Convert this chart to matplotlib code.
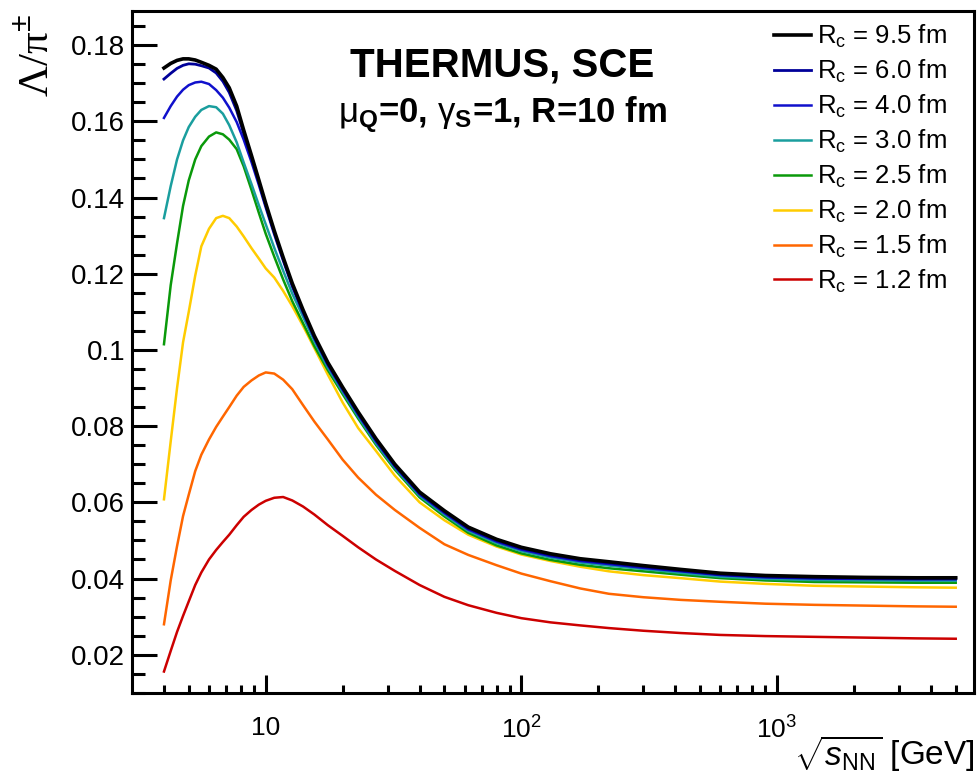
import matplotlib
matplotlib.use("Agg")
import matplotlib.pyplot as plt
import matplotlib.ticker as ticker

plt.rcParams['font.family'] = ['Liberation Sans', 'DejaVu Sans']
plt.rcParams['mathtext.fontset'] = 'custom'
plt.rcParams['mathtext.rm'] = 'Liberation Sans'
plt.rcParams['mathtext.it'] = 'Liberation Sans:italic'
plt.rcParams['mathtext.bf'] = 'Liberation Sans:bold'

# sqrt(s_NN) in GeV, common grid for all curves
sqrt_s = [4.0, 4.25, 4.5, 4.75, 5.0, 5.3, 5.6, 6.0, 6.4, 6.8,
          7.2, 7.7, 8.2, 8.8, 9.4, 10, 10.8, 11.7, 12.7, 14,
          15.5, 17.5, 20, 23, 27, 32, 40, 50, 62, 80,
          100, 130, 170, 220, 300, 420, 600, 900, 1400, 2200,
          3500, 5000]

# Lambda/pi ratio for each correlation radius R_c
rc_95 = [0.1740, 0.1752, 0.1760, 0.1764, 0.1764, 0.1761, 0.1755, 0.1747, 0.1737, 0.1715,
         0.1688, 0.1640, 0.1577, 0.1510, 0.1446, 0.1385, 0.1313, 0.1243, 0.1175, 0.1105,
         0.1037, 0.0967, 0.0902, 0.0837, 0.0767, 0.0700, 0.0627, 0.0578, 0.0535, 0.0503,
         0.0482, 0.0465, 0.0452, 0.0444, 0.0434, 0.0424, 0.0414, 0.0408, 0.0405, 0.0403,
         0.0402, 0.0402]
rc_60 = [0.1711, 0.1726, 0.1739, 0.1747, 0.1751, 0.1750, 0.1746, 0.1740, 0.1727, 0.1705,
         0.1676, 0.1628, 0.1568, 0.1503, 0.1440, 0.1380, 0.1309, 0.1239, 0.1171, 0.1101,
         0.1034, 0.0964, 0.0899, 0.0834, 0.0764, 0.0697, 0.0624, 0.0575, 0.0532, 0.0500,
         0.0479, 0.0462, 0.0449, 0.0441, 0.0431, 0.0421, 0.0411, 0.0405, 0.0402, 0.0401,
         0.0400, 0.0400]
rc_40 = [0.1609, 0.1640, 0.1665, 0.1683, 0.1695, 0.1702, 0.1704, 0.1698, 0.1682, 0.1662,
         0.1636, 0.1598, 0.1552, 0.1493, 0.1433, 0.1374, 0.1303, 0.1234, 0.1166, 0.1097,
         0.1030, 0.0960, 0.0895, 0.0830, 0.0760, 0.0694, 0.0621, 0.0572, 0.0529, 0.0497,
         0.0476, 0.0459, 0.0446, 0.0438, 0.0428, 0.0419, 0.0409, 0.0403, 0.0400, 0.0399,
         0.0398, 0.0398]
rc_30 = [0.1346, 0.1430, 0.1500, 0.1550, 0.1585, 0.1612, 0.1630, 0.1640, 0.1637, 0.1620,
         0.1590, 0.1545, 0.1492, 0.1435, 0.1380, 0.1330, 0.1268, 0.1208, 0.1148, 0.1087,
         0.1023, 0.0954, 0.0890, 0.0825, 0.0755, 0.0690, 0.0617, 0.0568, 0.0525, 0.0493,
         0.0472, 0.0455, 0.0442, 0.0434, 0.0425, 0.0415, 0.0405, 0.0399, 0.0396, 0.0395,
         0.0394, 0.0394]
rc_25 = [0.1015, 0.1170, 0.1280, 0.1378, 0.1445, 0.1500, 0.1535, 0.1560, 0.1571, 0.1566,
         0.1552, 0.1527, 0.1482, 0.1420, 0.1360, 0.1305, 0.1245, 0.1185, 0.1128, 0.1070,
         0.1010, 0.0947, 0.0884, 0.0820, 0.0751, 0.0686, 0.0613, 0.0563, 0.0520, 0.0487,
         0.0466, 0.0449, 0.0436, 0.0427, 0.0419, 0.0410, 0.0401, 0.0395, 0.0391, 0.0390,
         0.0389, 0.0389]
rc_20 = [0.0608, 0.0760, 0.0900, 0.1020, 0.1100, 0.1195, 0.1272, 0.1318, 0.1346, 0.1352,
         0.1346, 0.1324, 0.1298, 0.1267, 0.1240, 0.1214, 0.1190, 0.1155, 0.1115, 0.1063,
         0.1005, 0.0935, 0.0862, 0.0795, 0.0735, 0.0670, 0.0600, 0.0553, 0.0515, 0.0484,
         0.0463, 0.0446, 0.0431, 0.0419, 0.0409, 0.0401, 0.0392, 0.0386, 0.0381, 0.0379,
         0.0377, 0.0376]
rc_15 = [0.0280, 0.0395, 0.0485, 0.0564, 0.0620, 0.0682, 0.0725, 0.0765, 0.0798, 0.0825,
         0.0850, 0.0880, 0.0903, 0.0920, 0.0933, 0.0941, 0.0938, 0.0922, 0.0897, 0.0855,
         0.0812, 0.0765, 0.0712, 0.0665, 0.0620, 0.0580, 0.0533, 0.0490, 0.0462, 0.0435,
         0.0413, 0.0393, 0.0374, 0.0360, 0.0351, 0.0344, 0.0339, 0.0334, 0.0331, 0.0329,
         0.0327, 0.0326]
rc_12 = [0.0156, 0.0210, 0.0260, 0.0302, 0.0340, 0.0383, 0.0416, 0.0450, 0.0475, 0.0496,
         0.0515, 0.0540, 0.0562, 0.0580, 0.0594, 0.0604, 0.0612, 0.0614, 0.0605, 0.0589,
         0.0568, 0.0540, 0.0512, 0.0482, 0.0450, 0.0420, 0.0383, 0.0352, 0.0330, 0.0310,
         0.0296, 0.0285, 0.0277, 0.0270, 0.0263, 0.0257, 0.0252, 0.0249, 0.0247, 0.0245,
         0.0243, 0.0242]

curves = [rc_95, rc_60, rc_40, rc_30, rc_25, rc_20, rc_15, rc_12]
radii = ['9.5', '6.0', '4.0', '3.0', '2.5', '2.0', '1.5', '1.2']
colors = ['#000000', '#000099', '#1010cc', '#1a9e9e', '#0a990a', '#ffcc00', '#ff6600', '#cc0000']
widths = [2.6, 2.0, 1.8, 1.8, 1.8, 1.8, 1.8, 1.8]

fig = plt.figure(figsize=(9.78, 7.75), dpi=100)
ax = fig.add_axes([0.135, 0.106, 0.861, 0.880])

lines = []
for i in range(len(curves) - 1, -1, -1):
    ln, = ax.plot(sqrt_s, curves[i], color=colors[i], lw=widths[i],
                  label=r'R$_{\rm c}$ = ' + radii[i] + ' fm', solid_joinstyle='round')
    lines.insert(0, ln)

ax.set_xscale('log')
ax.set_xlim(3.0, 5900)
ax.set_ylim(0.01, 0.189)

ax.xaxis.set_major_locator(ticker.FixedLocator([10, 100, 1000]))
ax.xaxis.set_major_formatter(ticker.FixedFormatter(['10', r'$10^{2}$', r'$10^{3}$']))
minors = [4, 5, 6, 7, 8, 9] + [20, 30, 40, 50, 60, 70, 80, 90] + \
         [200, 300, 400, 500, 600, 700, 800, 900] + [2000, 3000, 4000, 5000]
ax.xaxis.set_minor_locator(ticker.FixedLocator(minors))
ax.xaxis.set_minor_formatter(ticker.NullFormatter())

ax.yaxis.set_major_locator(ticker.MultipleLocator(0.02))
ax.yaxis.set_minor_locator(ticker.MultipleLocator(0.005))
ax.yaxis.set_major_formatter(ticker.FuncFormatter(lambda v, p: '%g' % round(v, 3)))

for s in ax.spines.values():
    s.set_linewidth(2.2)
ax.tick_params(axis='both', which='both', direction='in', width=2.2, top=False, right=False)
ax.tick_params(axis='y', which='major', length=18, pad=5, labelsize=20)
ax.tick_params(axis='y', which='minor', length=9.5)
ax.tick_params(axis='x', which='major', length=13, pad=17, labelsize=19)
ax.tick_params(axis='x', which='minor', length=6)

leg = ax.legend(handles=lines, loc='upper right', bbox_to_anchor=(0.968, 0.982),
                frameon=False, fontsize=18.5, handlelength=1.44, handletextpad=0.23,
                labelspacing=0.30, borderpad=0, borderaxespad=0)

ax.text(0.44, 0.92, 'THERMUS, SCE', transform=ax.transAxes, ha='center', va='center',
        fontsize=29, fontweight='bold')
ax.text(0.44, 0.848, r'$\mathrm{μ}_{\mathbf{Q}}$=0, $\mathrm{γ}_{\mathbf{S}}$=1, R=10 fm',
        transform=ax.transAxes, ha='center', va='center', fontsize=25, fontweight='bold')

fig.text(0.039, 0.982, r'Λ/π$^{\pm}$', rotation=90, ha='center', va='top',
         fontsize=31, family='Liberation Serif')
fig.text(0.997, 0.013, r'$\sqrt{s_{\rm NN}}$ [GeV]', ha='right', va='baseline', fontsize=24)

fig.savefig('out.png', dpi=100)
